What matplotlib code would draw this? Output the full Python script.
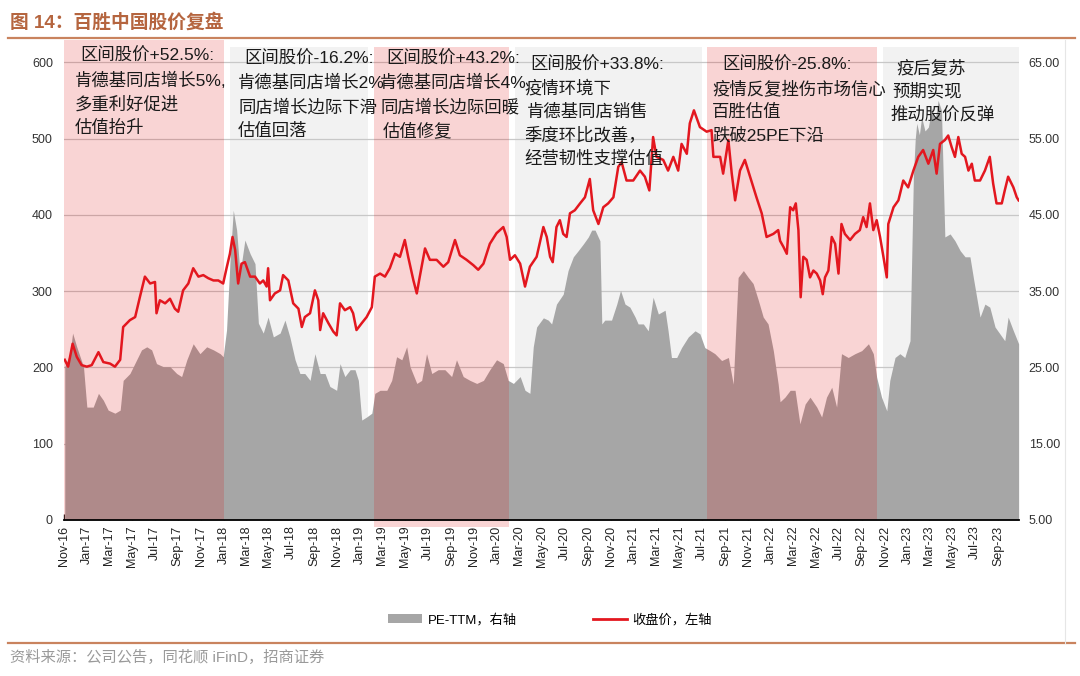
import matplotlib
matplotlib.use("Agg")
import matplotlib.pyplot as plt
import matplotlib.dates as mdates
from matplotlib.lines import Line2D
from matplotlib.patches import Patch
import pandas as pd

plt.rcParams['font.family'] = ['Liberation Sans', 'Noto Sans CJK SC', 'DejaVu Sans']

# ---- data ----
close_dates = [
    "2016-11-03", "2016-11-12", "2016-11-24", "2016-12-05", "2016-12-18", "2017-01-01", "2017-01-14",
    "2017-02-01", "2017-02-14", "2017-03-04", "2017-03-17", "2017-03-31", "2017-04-08", "2017-04-26",
    "2017-05-10", "2017-05-23", "2017-06-05", "2017-06-19", "2017-07-02", "2017-07-06", "2017-07-15",
    "2017-07-29", "2017-08-11", "2017-08-24", "2017-09-02", "2017-09-15", "2017-09-29", "2017-10-12",
    "2017-10-26", "2017-11-08", "2017-11-21", "2017-12-05", "2017-12-18", "2017-12-31", "2018-01-09",
    "2018-01-18", "2018-01-25", "2018-02-01", "2018-02-09", "2018-02-18", "2018-02-27", "2018-03-13",
    "2018-03-26", "2018-04-08", "2018-04-17", "2018-04-26", "2018-04-30", "2018-05-05", "2018-05-18",
    "2018-06-01", "2018-06-09", "2018-06-23", "2018-07-06", "2018-07-20", "2018-07-29", "2018-08-06",
    "2018-08-20", "2018-09-02", "2018-09-11", "2018-09-16", "2018-09-24", "2018-10-08", "2018-10-21",
    "2018-10-30", "2018-11-08", "2018-11-21", "2018-12-05", "2018-12-13", "2018-12-22", "2019-01-05",
    "2019-01-18", "2019-02-01", "2019-02-09", "2019-02-23", "2019-03-08", "2019-03-21", "2019-04-04",
    "2019-04-17", "2019-04-30", "2019-05-09", "2019-05-23", "2019-06-01", "2019-06-09", "2019-06-23",
    "2019-07-06", "2019-07-24", "2019-08-11", "2019-08-24", "2019-09-11", "2019-09-24", "2019-10-12",
    "2019-10-30", "2019-11-12", "2019-11-26", "2019-12-13", "2019-12-31", "2020-01-18", "2020-01-27",
    "2020-02-05", "2020-02-18", "2020-03-03", "2020-03-16", "2020-03-29", "2020-04-16", "2020-05-04",
    "2020-05-13", "2020-05-22", "2020-05-29", "2020-06-08", "2020-06-17", "2020-06-26", "2020-07-05",
    "2020-07-14", "2020-07-27", "2020-08-10", "2020-08-23", "2020-09-05", "2020-09-14", "2020-09-28",
    "2020-10-11", "2020-10-24", "2020-11-07", "2020-11-20", "2020-11-29", "2020-12-12", "2020-12-30",
    "2021-01-17", "2021-01-30", "2021-02-11", "2021-02-21", "2021-03-02", "2021-03-20", "2021-04-02",
    "2021-04-16", "2021-04-29", "2021-05-08", "2021-05-22", "2021-05-30", "2021-06-10", "2021-06-26",
    "2021-07-14", "2021-07-27", "2021-08-01", "2021-08-19", "2021-08-27", "2021-09-10", "2021-09-19",
    "2021-09-28", "2021-10-11", "2021-10-24", "2021-11-07", "2021-11-24", "2021-12-08", "2021-12-21",
    "2022-01-08", "2022-01-21", "2022-01-26", "2022-02-04", "2022-02-13", "2022-02-22", "2022-03-02",
    "2022-03-09", "2022-03-16", "2022-03-22", "2022-03-29", "2022-04-07", "2022-04-16", "2022-04-25",
    "2022-05-04", "2022-05-13", "2022-05-20", "2022-05-26", "2022-06-04", "2022-06-13", "2022-06-22",
    "2022-07-01", "2022-07-09", "2022-07-18", "2022-08-01", "2022-08-14", "2022-08-27", "2022-09-05",
    "2022-09-14", "2022-09-23", "2022-10-02", "2022-10-11", "2022-10-20", "2022-10-29", "2022-11-07",
    "2022-11-11", "2022-11-25", "2022-12-08", "2022-12-21", "2023-01-03", "2023-01-17", "2023-01-30",
    "2023-02-12", "2023-02-26", "2023-03-11", "2023-03-20", "2023-03-29", "2023-04-11", "2023-04-20",
    "2023-04-29", "2023-05-08", "2023-05-17", "2023-05-26", "2023-06-04", "2023-06-13", "2023-06-22",
    "2023-06-30", "2023-07-14", "2023-07-27", "2023-08-09", "2023-08-18", "2023-08-27", "2023-09-10",
    "2023-09-18", "2023-09-27", "2023-10-11", "2023-10-20", "2023-10-25",
]
close_vals = [
    210, 201, 231, 214, 203, 201, 203,
    220, 207, 205, 201, 210, 253, 262,
    266, 293, 319, 310, 312, 271, 288,
    284, 290, 277, 273, 301, 310, 330,
    319, 321, 317, 314, 314, 310, 330,
    349, 371, 354, 310, 336, 338, 319,
    319, 310, 314, 306, 330, 288, 297,
    301, 321, 314, 284, 277, 253, 266,
    271, 301, 288, 249, 271, 258, 247,
    242, 284, 275, 279, 271, 249, 258,
    266, 279, 319, 323, 319, 330, 349,
    345, 367, 345, 314, 297, 319, 356,
    341, 341, 332, 338, 367, 347, 341,
    334, 328, 336, 362, 376, 384, 371,
    341, 347, 336, 306, 332, 345, 384,
    371, 345, 338, 384, 393, 375, 371,
    402, 406, 415, 423, 447, 406, 388,
    410, 415, 423, 463, 469, 445, 445,
    458, 450, 432, 502, 476, 472, 458,
    476, 458, 493, 480, 520, 537, 515,
    509, 511, 476, 476, 454, 498, 454,
    419, 458, 472, 450, 423, 402, 371,
    375, 380, 366, 358, 349, 410, 406,
    415, 380, 292, 345, 341, 318, 327,
    323, 314, 296, 318, 327, 371, 362,
    323, 388, 375, 367, 375, 380, 397,
    384, 415, 380, 393, 371, 345, 318,
    388, 410, 419, 445, 436, 458, 476,
    485, 467, 485, 454, 493, 498, 504,
    489, 476, 502, 480, 476, 458, 467,
    445, 445, 458, 476, 441, 415, 415,
    432, 450, 436, 423, 419,
]

pe_dates = [
    "2016-11-03", "2016-11-17", "2016-11-24", "2016-12-05", "2016-12-23", "2017-01-01", "2017-01-18",
    "2017-02-01", "2017-02-14", "2017-02-27", "2017-03-17", "2017-03-31", "2017-04-08", "2017-04-26",
    "2017-05-14", "2017-05-27", "2017-06-10", "2017-06-23", "2017-07-06", "2017-07-24", "2017-08-11",
    "2017-08-29", "2017-09-11", "2017-09-25", "2017-10-12", "2017-10-30", "2017-11-17", "2017-12-05",
    "2017-12-23", "2017-12-31", "2018-01-09", "2018-01-18", "2018-01-27", "2018-02-05", "2018-02-14",
    "2018-02-27", "2018-03-13", "2018-03-26", "2018-04-04", "2018-04-17", "2018-04-30", "2018-05-14",
    "2018-06-01", "2018-06-14", "2018-06-27", "2018-07-11", "2018-07-24", "2018-08-06", "2018-08-20",
    "2018-09-02", "2018-09-16", "2018-09-29", "2018-10-12", "2018-10-30", "2018-11-08", "2018-11-21",
    "2018-12-05", "2018-12-18", "2018-12-27", "2019-01-05", "2019-01-18", "2019-02-01", "2019-02-09",
    "2019-02-23", "2019-03-13", "2019-03-26", "2019-04-08", "2019-04-22", "2019-05-05", "2019-05-14",
    "2019-06-01", "2019-06-14", "2019-06-27", "2019-07-11", "2019-07-28", "2019-08-15", "2019-09-02",
    "2019-09-15", "2019-10-03", "2019-10-21", "2019-11-08", "2019-11-26", "2019-12-13", "2019-12-31",
    "2020-01-18", "2020-01-31", "2020-02-14", "2020-03-03", "2020-03-16", "2020-03-29", "2020-04-07",
    "2020-04-16", "2020-05-04", "2020-05-17", "2020-05-26", "2020-06-08", "2020-06-26", "2020-07-09",
    "2020-07-23", "2020-08-05", "2020-08-19", "2020-09-01", "2020-09-10", "2020-09-19", "2020-10-02",
    "2020-10-07", "2020-10-15", "2020-11-02", "2020-11-16", "2020-11-26", "2020-12-08", "2020-12-21",
    "2021-01-04", "2021-01-12", "2021-01-26", "2021-02-08", "2021-02-21", "2021-03-07", "2021-03-25",
    "2021-04-02", "2021-04-11", "2021-04-25", "2021-05-08", "2021-05-26", "2021-06-13", "2021-06-26",
    "2021-07-09", "2021-07-23", "2021-08-05", "2021-08-23", "2021-09-10", "2021-09-23", "2021-10-06",
    "2021-10-20", "2021-11-02", "2021-11-15", "2021-11-29", "2021-12-12", "2021-12-25", "2022-01-08",
    "2022-01-21", "2022-01-26", "2022-02-08", "2022-02-22", "2022-03-07", "2022-03-20", "2022-04-03",
    "2022-04-16", "2022-05-04", "2022-05-17", "2022-05-30", "2022-06-13", "2022-06-26", "2022-07-09",
    "2022-07-27", "2022-08-14", "2022-09-01", "2022-09-19", "2022-10-02", "2022-10-11", "2022-10-24",
    "2022-11-07", "2022-11-15", "2022-11-29", "2022-12-12", "2022-12-25", "2023-01-08", "2023-01-17",
    "2023-01-22", "2023-01-26", "2023-02-02", "2023-02-08", "2023-02-17", "2023-02-26", "2023-03-07",
    "2023-03-16", "2023-03-24", "2023-04-02", "2023-04-11", "2023-04-25", "2023-05-08", "2023-05-22",
    "2023-06-04", "2023-06-17", "2023-06-26", "2023-07-14", "2023-07-27", "2023-08-09", "2023-08-23",
    "2023-09-05", "2023-09-18", "2023-09-27", "2023-10-11", "2023-10-25",
]
pe_vals = [
    25.1, 26.8, 29.5, 27.7, 25.1, 19.8, 19.8,
    21.6, 20.7, 19.4, 19.0, 19.4, 23.3, 24.2,
    26.0, 27.3, 27.7, 27.3, 25.5, 25.1, 25.1,
    24.2, 23.8, 26.0, 28.1, 26.8, 27.7, 27.3,
    26.8, 26.4, 29.9, 38.6, 45.6, 43.0, 37.3,
    41.7, 39.9, 38.6, 30.8, 29.5, 31.6, 29.0,
    29.5, 31.2, 29.0, 26.0, 24.2, 24.2, 23.3,
    26.8, 24.2, 24.2, 22.5, 22.0, 25.5, 23.8,
    24.7, 24.7, 23.3, 18.1, 18.5, 19.0, 21.6,
    22.0, 22.0, 23.3, 26.4, 26.0, 27.7, 25.1,
    22.9, 23.3, 26.8, 24.2, 24.7, 24.7, 23.8,
    26.0, 23.8, 23.3, 22.9, 23.3, 24.7, 26.0,
    25.5, 23.3, 22.9, 23.8, 22.0, 21.6, 27.7,
    30.3, 31.5, 31.2, 30.7, 33.3, 34.6, 37.7,
    39.5, 40.3, 41.2, 42.1, 43.0, 43.0, 41.6,
    30.7, 31.2, 31.2, 33.3, 35.1, 33.3, 32.9,
    31.6, 30.7, 30.7, 29.8, 34.2, 32.0, 32.5,
    29.8, 26.3, 26.3, 27.6, 29.0, 29.8, 29.4,
    27.6, 27.2, 26.8, 25.9, 26.3, 22.8, 36.8,
    37.7, 36.8, 36.0, 33.8, 31.6, 30.7, 27.2,
    22.8, 20.5, 21.1, 22.0, 22.0, 17.6, 20.2,
    21.1, 19.8, 18.5, 21.1, 22.4, 19.8, 26.8,
    26.3, 26.8, 27.2, 28.1, 26.8, 23.7, 21.1,
    19.3, 23.3, 26.3, 26.8, 26.3, 28.5, 50.0,
    55.0, 57.0, 55.5, 57.8, 56.0, 56.5, 59.0,
    57.4, 60.0, 58.7, 42.1, 42.5, 41.6, 40.3,
    39.5, 39.5, 36.8, 31.6, 33.3, 32.9, 30.3,
    29.4, 28.5, 31.6, 29.8, 28.1,
]

# stage boxes
stage_start = ["2016-11-02", "2018-01-18", "2019-02-07", "2020-02-18", "2021-07-15", "2022-10-28"]
stage_end = ["2018-01-03", "2019-01-22", "2020-02-02", "2021-07-01", "2022-10-12", "2023-10-26"]
stage_kind = ["up", "down", "up", "down", "up", "down"]

stage_text = [
    ["区间股价+52.5%:", "肯德基同店增长5%,", "多重利好促进", "估值抬升"],
    ["区间股价-16.2%:", "肯德基同店增长2%", "同店增长边际下滑", "估值回落"],
    ["区间股价+43.2%:", "肯德基同店增长4%", "同店增长边际回暖", "估值修复"],
    ["区间股价+33.8%:", "疫情环境下", "肯德基同店销售", "季度环比改善，", "经营韧性支撑估值"],
    ["区间股价-25.8%:", "疫情反复挫伤市场信心", "百胜估值", "跌破25PE下沿"],
    ["疫后复苏", "预期实现", "推动股价反弹"],
]
# pixel positions of each text line (left x, centre y)
text_x = [[80, 75, 75, 75], [244, 238, 238, 238], [386, 380, 380, 383],
          [530, 524, 527, 524, 524], [722, 712, 712, 712], [896, 892, 890]]
text_y = [[56, 80, 104, 128], [59, 83, 107, 131], [59, 83, 107, 131],
          [65, 88, 112, 135, 159], [65, 89, 112, 135], [68, 91, 114]]

W, H = 1080, 676
fig = plt.figure(figsize=(W / 100, H / 100), dpi=100)
ax = fig.add_axes([64 / W, 1 - 520 / H, (1019 - 64) / W, (520 - 47) / H])

cd = pd.to_datetime(close_dates)
pdt = pd.to_datetime(pe_dates)

# background boxes + PE area on the base axes (right scale)
for s, e, k in zip(stage_start, stage_end, stage_kind):
    if k == "down":
        ax.axvspan(pd.Timestamp(s), pd.Timestamp(e), color="#F2F2F2", lw=0, zorder=0)
ax.fill_between(pdt, 5, pe_vals, color="#A6A6A6", lw=0, zorder=1)
for i, (s, e, k) in enumerate(zip(stage_start, stage_end, stage_kind)):
    if k == "up":
        ymin = -0.015 if i == 2 else 0
        ymax = 1.015 if i == 0 else 1
        r = ax.axvspan(pd.Timestamp(s), pd.Timestamp(e), ymin=ymin, ymax=ymax,
                       color="#E00000", alpha=0.17, lw=0, zorder=2)
        r.set_clip_on(False)

ax.set_ylim(5, 67)
ax.set_yticks([5, 15, 25, 35, 45, 55, 65])
ax.yaxis.set_major_formatter(matplotlib.ticker.FormatStrFormatter("%.2f"))
ax.grid(axis="y", color="#C8C8C8", lw=0.9)
ax.set_axisbelow(True)

# close price on the twin (left scale)
axp = ax.twinx()
axp.plot(cd, close_vals, color="#E3171F", lw=1.8, zorder=5)
axp.set_ylim(0, 620)
axp.set_yticks([0, 100, 200, 300, 400, 500, 600])
axp.yaxis.tick_left()
ax.yaxis.tick_right()

ax.set_xlim(pd.Timestamp("2016-11-01"), pd.Timestamp("2023-10-26"))
ax.xaxis.set_major_locator(mdates.MonthLocator(bymonth=[1, 3, 5, 7, 9, 11]))
ax.xaxis.set_major_formatter(mdates.DateFormatter("%b-%y"))
for lab in ax.get_xticklabels():
    lab.set_rotation(90)
ax.tick_params(axis="x", direction="in", length=4, width=1, labelsize=9, pad=4, colors="#222222")
ax.tick_params(axis="y", length=0, labelsize=9, pad=7, colors="#333333")
axp.tick_params(axis="y", length=0, labelsize=9, pad=8, colors="#333333")

for a in (ax, axp):
    for sp in ("top", "left", "right"):
        a.spines[sp].set_visible(False)
ax.spines["bottom"].set_color("black")
ax.spines["bottom"].set_linewidth(1.3)
axp.spines["bottom"].set_visible(False)

# annotations
for lines, xs, ys in zip(stage_text, text_x, text_y):
    for t, x, y in zip(lines, xs, ys):
        fig.text(x / W, 1 - y / H, t, fontsize=12.5, color="#1a1a1a", ha="left", va="center",
                 zorder=10)

# legend
handles = [Patch(color="#A6A6A6", lw=0), Line2D([], [], color="#E3171F", lw=2)]
fig.legend(handles, ["PE-TTM，右轴", "收盘价，左轴"], loc="center", bbox_to_anchor=(550 / W, 1 - 620 / H),
           ncol=2, frameon=False, fontsize=9.5, handlelength=2.6, handleheight=0.7,
           columnspacing=5.8, handletextpad=0.4)

# title, rules, source
fig.text(10 / W, 1 - 22 / H, "图 14：百胜中国股价复盘", fontsize=13.5, color="#B5653F",
         ha="left", va="center", fontweight="bold")
fig.add_artist(Line2D([8 / W, 1075 / W], [1 - 38 / H] * 2, color="#C9835E", lw=1.6))
fig.add_artist(Line2D([8 / W, 1075 / W], [1 - 643 / H] * 2, color="#C9835E", lw=1.6))
fig.add_artist(Line2D([1065 / W] * 2, [1 - 40 / H, 1 - 643 / H], color="#E6E6E6", lw=0.8))
fig.text(10 / W, 1 - 657 / H, "资料来源：公司公告，同花顺 iFinD，招商证券", fontsize=11,
         color="#9A9A9A", ha="left", va="center")

fig.savefig("out.png", dpi=100)
